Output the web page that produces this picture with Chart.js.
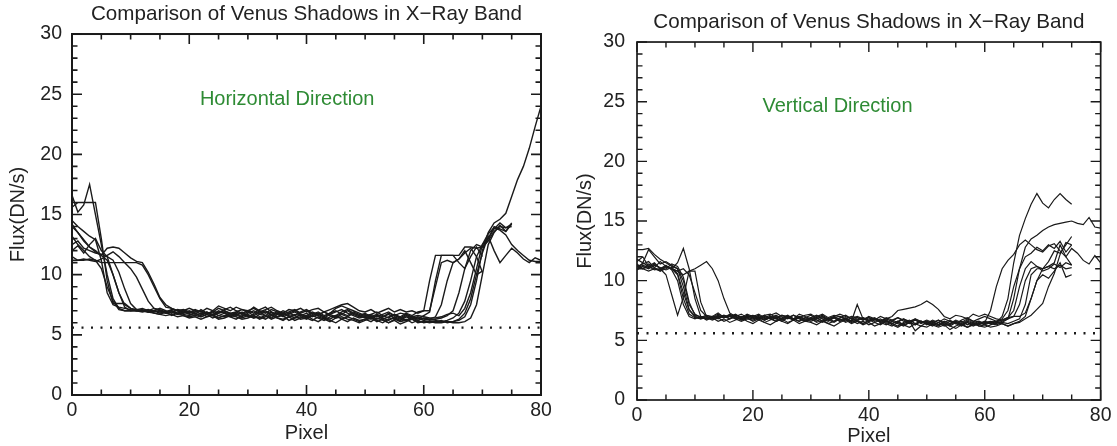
<!DOCTYPE html>
<html>
<head>
<meta charset="utf-8">
<script src="https://cdn.jsdelivr.net/npm/chart.js@4.4.1/dist/chart.umd.min.js"></script>
<style>
  html, body { margin: 0; padding: 0; background: #fff; }
  #wrap { position: relative; width: 1117px; height: 446px; overflow: hidden; }
  #horiz { position: absolute; left: 0; top: 0; }
  #vert { position: absolute; left: 560px; top: 0; }
</style>
</head>
<body>
<div id="wrap">
  <canvas id="horiz" width="560" height="446"></canvas>
  <canvas id="vert" width="557" height="446"></canvas>
</div>
<script>
// axis ranges and the dotted background level
const xRange = [0, 80];
const yRange = [0, 30];
const threshold = 5.6;
const panelTitle = 'Comparison of Venus Shadows in X\u2212Ray Band';

// horizontal direction profiles, flux per pixel (index = pixel)
const hLine1 = [11.2, 11.2, 11.2, 11.3, 11.2, 10.5, 9.0, 7.8, 7.1, 7.0,
  7.0, 7.0, 7.0, 7.0, 7.0, 6.9, 6.8, 6.7, 6.8, 6.6,
  6.5, 6.6, 6.5, 6.7, 6.4, 6.6, 6.8, 6.5, 6.3, 6.6,
  6.7, 6.5, 6.4, 6.6, 6.3, 6.5, 6.6, 6.2, 6.4, 6.5,
  6.3, 6.6, 6.4, 6.2, 6.5, 6.6, 6.3, 6.1, 6.4, 6.2,
  6.3, 6.5, 6.2, 6.0, 6.3, 6.4, 6.1, 6.2, 6.3, 6.1,
  6.1, 6.1, 6.1, 6.1, 6.1, 6.1, 6.2, 6.5, 7.5, 9.5,
  12.0, 13.5, 14.3, 14.6, 15.1, 16.5, 17.9, 19.0, 20.5, 22.3, 24.0];
const hLine2 = [14.0, 13.5, 12.8, 12.3, 12.0, 11.6, 11.2, 10.0, 8.5, 7.3,
  7.0, 7.1, 7.0, 7.1, 6.9, 7.0, 6.8, 6.9, 6.7, 6.9,
  6.8, 6.9, 7.0, 6.7, 6.9, 7.2, 7.0, 6.8, 6.9, 7.1,
  6.9, 7.3, 7.0, 6.8, 7.1, 6.9, 6.7, 6.9, 7.1, 6.8,
  7.0, 6.7, 6.9, 6.6, 6.8, 7.2, 7.4, 7.2, 7.0, 6.8,
  6.6, 6.7, 6.5, 6.7, 6.9, 6.6, 6.8, 6.7, 6.5, 6.6,
  6.5, 6.4, 6.4, 6.5, 6.7, 6.8, 6.6, 7.2, 8.5, 10.5,
  12.5, 13.4, 13.9, 13.7, 13.3, 12.5, 12.0, 11.6, 11.2, 11.1, 11.1];
const hLine3 = [12.5, 12.8, 12.2, 12.0, 11.8, 11.7, 11.5, 11.2, 10.2, 8.8,
  7.6, 7.1, 7.0, 6.9, 6.8, 6.7, 6.6, 6.7, 6.5, 6.6,
  6.4, 6.5, 6.3, 6.5, 6.6, 6.3, 6.4, 6.6, 6.5, 6.3,
  6.4, 6.6, 6.3, 6.5, 6.7, 6.4, 6.2, 6.5, 6.6, 6.3,
  6.4, 6.2, 6.5, 6.3, 6.1, 6.4, 6.5, 6.3, 6.2, 6.0,
  6.2, 6.4, 6.1, 6.3, 6.0, 6.2, 5.9, 6.1, 6.3, 6.0,
  6.1, 6.0, 6.1, 6.2, 6.0, 6.1, 6.3, 6.8, 8.0, 10.0,
  11.8, 13.2, 12.0, 11.0, 11.6, 12.2, 11.8, 11.3, 11.0, 11.4, 11.2];
const hLine4 = [16.6, 15.2, 15.8, 17.5, 15.0, 12.5, 10.0, 8.0, 7.2, 7.0,
  7.0, 7.0, 7.0, 6.9, 7.0, 6.8, 6.9, 7.0, 6.7, 6.8,
  6.9, 6.7, 7.1, 6.8, 6.6, 6.9, 7.0, 6.7, 6.8, 6.5,
  6.8, 7.0, 6.7, 6.6, 6.9, 6.5, 6.8, 6.6, 6.4, 6.7,
  6.5, 6.8, 6.6, 6.4, 6.7, 6.9, 7.1, 6.8, 6.6, 6.4,
  6.5, 6.3, 6.6, 6.4, 6.2, 6.5, 6.3, 6.6, 6.4, 6.2,
  6.4, 6.3, 6.2, 6.1, 6.2, 6.4, 6.8, 7.8, 9.5, 11.5,
  12.5, 13.0, 14.0, 13.8, 13.6, 14.3];
const hLine5 = [15.6, 16.0, 16.0, 16.0, 16.0, 13.0, 9.5, 7.6, 7.6, 7.6,
  7.2, 7.0, 6.9, 7.0, 6.8, 6.7, 6.9, 6.6, 6.8, 6.7,
  6.6, 6.8, 6.5, 6.7, 6.9, 6.6, 6.5, 6.8, 6.6, 6.9,
  6.6, 6.4, 6.7, 6.9, 6.6, 6.8, 6.5, 6.7, 6.9, 6.6,
  6.8, 6.5, 6.7, 6.9, 6.6, 6.4, 6.7, 7.0, 6.7, 6.5,
  6.7, 6.4, 6.6, 6.3, 6.5, 6.7, 6.4, 6.2, 6.5, 6.3,
  6.6, 6.9, 9.5, 11.6, 11.6, 11.6, 11.6, 12.3, 12.3, 12.2,
  12.3, 12.8, 13.6, 14.0, 13.9, 14.2];
const hLine6 = [14.5, 14.0, 13.6, 13.2, 12.9, 11.2, 8.5, 7.5, 7.3, 7.2,
  7.1, 7.0, 7.1, 6.9, 7.0, 7.2, 7.0, 6.8, 7.1, 7.0,
  7.2, 7.0, 6.9, 7.2, 7.0, 7.4, 7.2, 7.0, 7.3, 7.1,
  7.0, 7.2, 6.9, 7.1, 7.3, 7.0, 6.8, 7.1, 7.0, 7.2,
  6.9, 7.1, 7.2, 6.9, 7.1, 7.3, 7.5, 7.6, 7.3, 7.0,
  6.9, 7.1, 6.8, 7.0, 7.2, 6.9, 7.1, 6.9, 7.0, 6.8,
  7.0, 7.0, 9.0, 11.0, 11.2, 11.0, 11.3, 12.0, 11.0, 10.0,
  10.3];
const hLine7 = [13.2, 12.5, 12.0, 11.5, 11.2, 11.0, 11.0, 11.0, 11.0, 11.0,
  11.0, 11.0, 10.8, 10.0, 9.0, 8.0, 7.3, 7.2, 7.0, 7.1,
  6.9, 7.0, 6.7, 6.9, 6.6, 6.8, 6.9, 6.6, 6.7, 6.8,
  6.5, 6.7, 6.9, 6.6, 6.4, 6.7, 6.8, 6.5, 6.7, 6.6,
  6.4, 6.6, 6.8, 6.5, 6.3, 6.6, 6.9, 7.1, 6.8, 6.6,
  6.4, 6.6, 6.3, 6.5, 6.7, 6.4, 6.2, 6.5, 6.3, 6.5,
  6.3, 6.2, 6.3, 6.4, 6.6, 7.0, 8.5, 10.5, 12.0, 12.5,
  12.3, 13.0, 13.8, 14.3, 13.9, 14.0];
const hLine8 = [14.2, 13.5, 12.9, 12.3, 11.9, 11.6, 12.2, 12.3, 12.2, 11.8,
  11.4, 11.1, 11.0, 10.2, 9.2, 8.1, 7.5, 7.2, 7.0, 6.9,
  6.7, 6.6, 6.8, 6.5, 6.7, 6.4, 6.6, 6.5, 6.7, 6.4,
  6.6, 6.4, 6.5, 6.3, 6.6, 6.4, 6.3, 6.5, 6.2, 6.4,
  6.6, 6.3, 6.1, 6.4, 6.2, 6.0, 6.3, 6.5, 6.3, 6.1,
  6.3, 6.1, 6.4, 6.2, 6.0, 6.3, 6.1, 6.3, 6.0, 6.2,
  6.0, 6.1, 6.0, 6.0, 6.1, 6.0, 6.0, 6.1, 6.4, 7.5,
  10.0, 12.5, 13.5, 14.1, 13.6, 14.2];
const hLine9 = [11.5, 11.2, 11.3, 11.2, 11.1, 11.3, 11.6, 11.9, 11.5, 11.0,
  10.5, 9.8, 8.8, 7.8, 7.2, 7.0, 6.9, 7.0, 6.8, 7.0,
  6.8, 7.1, 6.9, 6.7, 7.0, 6.8, 7.1, 7.3, 7.0, 6.8,
  7.0, 6.8, 7.1, 7.3, 6.9, 6.7, 7.0, 6.8, 6.6, 6.9,
  7.1, 6.8, 6.6, 6.9, 6.7, 6.5, 6.8, 6.6, 6.9, 6.7,
  6.5, 6.7, 6.9, 6.6, 6.4, 6.7, 6.5, 6.8, 6.6, 6.9,
  7.0, 9.5, 11.6, 11.6, 11.6, 11.6, 11.0, 10.5, 11.5, 12.3,
  11.5];
const hLine10 = [12.0, 12.4, 11.8, 12.5, 13.0, 12.0, 11.5, 10.0, 8.5, 7.5,
  7.2, 7.1, 7.2, 7.0, 7.2, 7.1, 6.9, 7.1, 7.0, 6.8,
  7.0, 6.8, 6.6, 6.9, 6.7, 7.0, 6.8, 6.6, 6.9, 6.7,
  6.9, 6.6, 6.8, 7.0, 6.7, 6.9, 6.6, 6.8, 7.0, 6.7,
  6.6, 6.9, 6.7, 6.5, 6.8, 7.0, 6.7, 6.5, 6.8, 6.6,
  6.8, 6.5, 6.7, 6.5, 6.8, 6.6, 6.4, 6.7, 6.5, 6.4,
  6.2, 6.3, 6.5, 7.5, 9.5, 11.0, 11.3, 11.8, 12.2, 11.5,
  10.2];

// vertical direction profiles
const vLine1 = [11.0, 11.5, 11.2, 11.0, 10.8, 11.2, 11.0, 10.5, 8.5, 7.2,
  6.9, 6.8, 7.0, 6.8, 7.0, 6.9, 7.1, 6.8, 7.0, 6.9,
  6.8, 7.0, 6.7, 6.9, 7.1, 6.8, 7.0, 6.8, 6.6, 6.9,
  7.1, 6.8, 7.0, 6.7, 6.9, 6.6, 6.8, 6.5, 6.7, 6.9,
  6.6, 6.8, 6.5, 6.7, 6.4, 6.6, 6.8, 6.5, 6.3, 6.6,
  6.4, 6.2, 6.5, 6.3, 6.6, 6.4, 6.2, 6.5, 6.3, 6.4,
  6.5, 6.6, 6.5, 7.0, 8.5, 11.5, 13.8, 15.2, 16.4, 17.3,
  16.5, 16.1, 16.8, 17.3, 16.8, 16.4];
const vLine2 = [11.3, 11.0, 11.4, 11.1, 11.6, 11.2, 11.0, 10.8, 11.0, 10.5,
  9.0, 7.5, 7.0, 6.8, 7.0, 6.9, 7.1, 6.9, 6.8, 7.0,
  6.9, 7.1, 6.8, 7.0, 6.8, 7.1, 6.9, 6.8, 7.0, 6.7,
  6.9, 7.1, 6.8, 6.6, 6.9, 7.0, 6.8, 6.6, 6.9, 6.7,
  6.9, 6.6, 6.8, 6.5, 6.7, 6.9, 6.6, 6.4, 6.7, 6.5,
  6.6, 6.4, 6.7, 6.5, 6.3, 6.6, 6.4, 6.7, 6.5, 6.6,
  6.4, 6.5, 6.6, 6.5, 6.8, 8.5, 11.0, 12.8, 13.5, 13.8,
  14.2, 14.5, 14.7, 14.8, 14.9, 15.0, 14.8, 14.7, 15.3, 14.5, 14.4];
const vLine3 = [12.6, 12.6, 12.7, 12.2, 11.8, 11.5, 11.2, 11.0, 9.5, 7.6,
  7.0, 6.9, 7.1, 7.0, 6.8, 7.1, 7.0, 7.2, 6.9, 7.1,
  7.0, 6.8, 7.1, 7.2, 6.9, 7.1, 7.0, 6.8, 7.2, 7.0,
  6.8, 7.0, 7.2, 6.9, 7.1, 7.0, 6.8, 7.0, 6.9, 6.7,
  7.0, 6.8, 6.6, 6.9, 6.7, 6.5, 6.8, 6.6, 6.8, 6.5,
  6.7, 6.5, 6.3, 6.6, 6.4, 6.7, 6.5, 6.8, 6.6, 6.4,
  6.5, 7.5, 9.5, 11.0, 11.7, 12.2, 13.0, 13.4, 13.0, 12.6,
  12.4, 12.9, 13.1, 12.5, 12.0, 12.7, 12.3, 11.7, 11.4, 12.1, 11.5];
const vLine4 = [11.2, 11.0, 10.8, 11.0, 10.9, 11.1, 11.0, 11.5, 12.7, 11.0,
  8.5, 7.0, 6.8, 7.0, 6.9, 7.1, 6.8, 7.0, 6.7, 6.9,
  7.1, 6.9, 6.7, 6.9, 6.6, 6.8, 7.0, 6.7, 6.9, 6.6,
  6.8, 6.6, 6.9, 6.7, 6.5, 6.8, 6.6, 6.9, 6.7, 6.4,
  6.6, 6.8, 6.5, 6.3, 6.6, 6.4, 6.2, 6.5, 6.3, 6.6,
  6.4, 6.6, 6.3, 6.5, 6.7, 6.4, 6.6, 6.3, 6.5, 6.2,
  6.3, 6.5, 6.4, 6.6, 6.8, 7.0, 8.0, 10.0, 11.0, 11.2,
  11.0, 11.2, 11.5, 13.0, 12.0, 11.3];
const vLine5 = [11.4, 11.0, 11.2, 10.9, 11.0, 10.5, 8.8, 7.1, 8.6, 10.8,
  10.8, 8.2, 7.0, 6.8, 7.1, 6.9, 7.2, 7.0, 6.8, 7.0,
  6.9, 6.7, 7.0, 6.8, 6.6, 6.9, 7.1, 6.8, 6.6, 6.9,
  6.7, 6.9, 6.6, 6.8, 7.0, 6.7, 6.9, 6.6, 8.0, 6.8,
  6.6, 6.8, 6.5, 6.7, 6.4, 6.6, 6.3, 6.5, 6.7, 6.4,
  6.6, 6.3, 6.5, 6.2, 6.4, 6.6, 6.3, 6.5, 6.2, 6.4,
  6.6, 6.4, 6.3, 6.5, 6.4, 6.6, 6.8, 8.0, 10.5, 11.0,
  11.0, 11.2, 11.0, 11.3, 11.0, 11.1];
const vLine6 = [11.0, 11.3, 11.1, 11.4, 11.0, 11.2, 11.0, 10.8, 10.5, 10.8,
  11.0, 11.3, 11.6, 11.0, 10.0, 8.5, 7.3, 7.0, 7.2, 6.9,
  7.1, 6.9, 6.7, 7.0, 6.8, 6.6, 6.9, 6.7, 7.0, 6.8,
  6.6, 6.8, 7.0, 6.7, 6.9, 6.6, 6.8, 6.5, 6.7, 6.9,
  6.7, 6.9, 6.6, 6.8, 7.0, 7.5, 7.6, 7.7, 7.8, 8.0,
  8.3, 8.0, 7.6, 7.0, 6.8, 7.1, 7.0, 6.8, 7.2, 7.0,
  7.2, 7.0, 6.8, 6.7, 6.9, 7.0, 7.0, 7.3, 8.5, 10.0,
  11.0, 11.6, 12.5, 12.3, 13.0, 13.7];
const vLine7 = [10.9, 11.2, 11.0, 11.3, 11.1, 10.9, 11.1, 10.6, 9.0, 7.5,
  7.0, 6.8, 6.9, 6.7, 6.9, 6.6, 6.8, 7.0, 6.7, 6.9,
  6.6, 6.8, 6.5, 6.7, 6.9, 6.6, 6.4, 6.7, 6.9, 6.6,
  6.8, 6.5, 6.7, 6.4, 6.6, 6.8, 6.5, 6.7, 6.4, 6.6,
  6.3, 6.5, 6.7, 6.4, 6.2, 6.5, 6.3, 6.1, 6.4, 6.2,
  6.5, 6.3, 6.1, 6.3, 5.9, 6.2, 6.4, 6.1, 6.3, 6.5,
  6.3, 6.1, 6.2, 6.4, 6.2, 6.4, 6.5, 6.8, 7.1, 7.6,
  8.1, 9.5, 10.6, 12.2, 13.2, 13.0];
const vLine8 = [11.8, 11.5, 12.6, 12.0, 11.4, 11.6, 11.3, 11.0, 10.0, 8.0,
  7.2, 6.9, 7.1, 6.9, 7.2, 7.0, 6.8, 7.1, 6.9, 7.2,
  7.0, 7.2, 6.9, 7.1, 7.3, 7.0, 6.8, 7.1, 6.9, 7.1,
  7.2, 6.9, 7.1, 6.8, 7.0, 7.2, 7.0, 6.8, 7.0, 6.8,
  6.9, 6.7, 7.0, 6.8, 6.6, 6.9, 6.7, 6.5, 6.8, 6.6,
  6.4, 6.7, 6.5, 6.8, 6.6, 6.4, 6.7, 6.9, 6.6, 6.8,
  7.0, 6.8, 6.6, 6.7, 6.9, 7.5, 9.5, 11.0, 11.6, 11.2,
  10.8, 11.0, 11.4, 11.1, 11.5, 11.3];
const vLine9 = [11.6, 12.0, 11.2, 11.5, 11.0, 11.3, 10.9, 10.0, 8.0, 7.0,
  6.8, 7.0, 6.7, 6.9, 6.6, 6.8, 6.5, 6.7, 6.9, 6.6,
  6.4, 6.7, 6.5, 6.3, 6.6, 6.8, 6.5, 6.7, 6.4, 6.6,
  6.5, 6.3, 6.6, 6.4, 6.2, 6.5, 6.7, 6.4, 6.6, 6.3,
  6.5, 6.2, 6.4, 6.6, 6.3, 6.1, 6.4, 6.6, 5.8, 6.2,
  6.1, 6.4, 6.2, 6.5, 6.2, 6.0, 6.3, 6.1, 6.4, 6.2,
  6.1, 6.3, 6.5, 6.4, 6.2, 6.4, 6.6, 7.0, 8.5, 10.0,
  10.5, 10.2, 10.8, 11.5, 10.3, 10.5];
const vLine10 = [11.2, 11.4, 11.6, 11.1, 10.8, 11.0, 11.4, 11.2, 10.3, 8.2,
  7.1, 7.0, 6.8, 7.0, 7.3, 6.9, 7.0, 6.8, 6.6, 6.8,
  6.7, 6.9, 7.1, 6.8, 7.0, 6.7, 6.9, 7.1, 6.8, 6.6,
  6.9, 6.7, 6.5, 6.8, 6.6, 6.9, 7.1, 6.8, 6.6, 6.4,
  6.7, 6.5, 6.3, 6.6, 6.4, 6.2, 6.5, 6.7, 6.4, 6.6,
  6.3, 6.5, 6.7, 6.4, 6.2, 6.5, 6.3, 6.6, 6.4, 6.3,
  6.5, 6.4, 6.6, 6.8, 7.5, 9.5, 11.0, 12.0, 12.3, 12.8,
  12.5, 13.0, 12.7, 13.3, 12.4, 13.0];

const horizLines = [hLine1, hLine2, hLine3, hLine4, hLine5, hLine6, hLine7, hLine8, hLine9, hLine10];
const vertLines = [vLine1, vLine2, vLine3, vLine4, vLine5, vLine6, vLine7, vLine8, vLine9, vLine10];

const FONT = '"Liberation Sans", Arial, Helvetica, sans-serif';
const INK = '#1a1a1a';

// closed box with inward ticks on all four sides
function frameTicks(o) {
  return {
    id: 'frameTicks',
    afterDatasetsDraw(chart) {
      const { ctx, chartArea: a, scales: { x, y } } = chart;
      ctx.save();
      ctx.strokeStyle = INK;
      ctx.lineWidth = o.frameWidth;
      ctx.strokeRect(a.left, a.top, a.right - a.left, a.bottom - a.top);
      ctx.lineWidth = o.tickWidth;
      ctx.beginPath();
      x.ticks.forEach(t => {
        const px = x.getPixelForValue(t.value);
        const len = t.value % 20 === 0 ? o.major : o.minor;
        ctx.moveTo(px, a.bottom); ctx.lineTo(px, a.bottom - len);
        ctx.moveTo(px, a.top); ctx.lineTo(px, a.top + len);
      });
      y.ticks.forEach(t => {
        const py = y.getPixelForValue(t.value);
        const len = t.value % 5 === 0 ? o.major : o.minor;
        ctx.moveTo(a.left, py); ctx.lineTo(a.left + len, py);
        ctx.moveTo(a.right, py); ctx.lineTo(a.right - len, py);
      });
      ctx.stroke();
      ctx.restore();
    }
  };
}

// green annotation inside the plot, anchored in data units
function panelLabel(text, at) {
  return {
    id: 'panelLabel',
    afterDatasetsDraw(chart) {
      const { ctx, scales: { x, y } } = chart;
      ctx.save();
      ctx.fillStyle = '#2e8b34';
      ctx.font = '20px ' + FONT;
      ctx.textAlign = 'center';
      ctx.textBaseline = 'middle';
      ctx.fillText(text, x.getPixelForValue(at[0]), y.getPixelForValue(at[1]));
      ctx.restore();
    }
  };
}

function makePanel(id, lines, label, labelAt, o) {
  const datasets = lines.map(arr => ({
    data: arr.map((v, i) => ({ x: i, y: v })),
    borderColor: INK,
    borderWidth: o.lineWidth,
    pointRadius: 0,
    tension: 0,
    fill: false
  }));
  datasets.push({
    data: [{ x: xRange[0], y: threshold }, { x: xRange[1], y: threshold }],
    borderColor: INK,
    borderWidth: 2.4,
    borderDash: [2, 7.5],
    pointRadius: 0,
    fill: false
  });

  return new Chart(document.getElementById(id), {
    type: 'line',
    data: { datasets },
    options: {
      responsive: false,
      animation: false,
      events: [],
      layout: { padding: { left: 0, right: o.padRight, top: 0, bottom: 0 } },
      plugins: {
        legend: { display: false },
        tooltip: { enabled: false },
        title: {
          display: true,
          text: panelTitle,
          fullSize: false,
          color: '#222',
          font: { family: FONT, size: 20.6, weight: 'normal', lineHeight: 1.2 },
          padding: { top: o.titleTop, bottom: o.titleBottom }
        }
      },
      scales: {
        x: {
          type: 'linear',
          min: xRange[0],
          max: xRange[1],
          afterFit: s => { s.height = o.xHeight; },
          grid: { display: false, drawTicks: false },
          border: { display: false },
          ticks: {
            stepSize: 5, autoSkip: false, maxRotation: 0, padding: o.xTickPad,
            color: '#222', font: { family: FONT, size: 19.5, lineHeight: 1 },
            callback: v => (v % 20 === 0 ? v : '')
          },
          title: {
            display: true, text: 'Pixel', color: '#222',
            font: { family: FONT, size: 20, lineHeight: 1 },
            padding: { top: 0, bottom: o.xTitleBottom }
          }
        },
        y: {
          min: yRange[0],
          max: yRange[1],
          afterFit: s => { s.width = o.yWidth; },
          grid: { display: false, drawTicks: false },
          border: { display: false },
          ticks: {
            stepSize: 1, autoSkip: false, padding: o.yTickPad,
            color: '#222', font: { family: FONT, size: 19.5, lineHeight: 1 },
            callback: v => (v % 5 === 0 ? v : '')
          },
          title: {
            display: true, text: 'Flux(DN/s)', color: '#222',
            font: { family: FONT, size: 20, lineHeight: 1 },
            padding: { top: o.yTitleTop, bottom: 0 }
          }
        }
      }
    },
    plugins: [frameTicks(o), panelLabel(label, labelAt)]
  });
}

makePanel('horiz', horizLines, 'Horizontal Direction', [36.7, 24.6], {
  lineWidth: 1.4, frameWidth: 2, tickWidth: 1.6, major: 10, minor: 5.5,
  padRight: 19, titleTop: 2, titleBottom: 7.3,
  xHeight: 51, xTickPad: 5.5, xTitleBottom: 3,
  yWidth: 72, yTickPad: 10, yTitleTop: 8
});

makePanel('vert', vertLines, 'Vertical Direction', [34.6, 24.6], {
  lineWidth: 1.2, frameWidth: 1.7, tickWidth: 1.4, major: 10, minor: 5.5,
  padRight: 14, titleTop: 10, titleBottom: 7.3,
  xHeight: 46, xTickPad: 5.5, xTitleBottom: 0,
  yWidth: 77, yTickPad: 12, yTitleTop: 15
});
</script>
</body>
</html>
